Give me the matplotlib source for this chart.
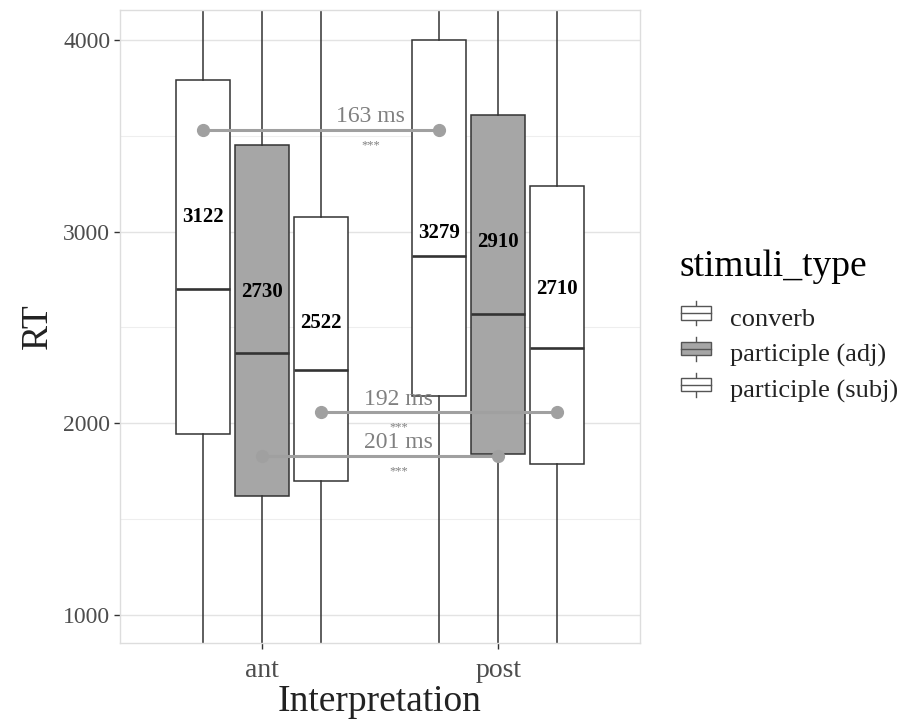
import numpy as np
import matplotlib.pyplot as plt
from matplotlib.patches import Rectangle, Patch
from matplotlib.lines import Line2D
from matplotlib.legend_handler import HandlerBase

plt.rcParams['font.family'] = ['Liberation Serif', 'DejaVu Serif']

# data
interpretation = ['ant', 'post']
stimuli_type = ['converb', 'participle (adj)', 'participle (subj)']
fills = ['white', '#A6A6A6', 'white']

# rows = interpretation, cols = stimuli_type
q1 = [[1945, 1621, 1698], [2143, 1839, 1787]]
med = [[2699, 2369, 2279], [2873, 2569, 2393]]
q3 = [[3791, 3454, 3075], [3998, 3610, 3240]]
whislo = [[600, 500, 550], [650, 600, 600]]      # whiskers run off the panel
whishi = [[5600, 5800, 5200], [6000, 5900, 5600]]
mean_lab = [[3122, 2730, 2522], [3279, 2910, 2710]]
lab_y = [[3078, 2687, 2522], [2992, 2946, 2699]]

# pairwise comparisons ant vs post, per stimuli type
comp_type = [0, 2, 1]
comp_y = [3530, 2058, 1830]
comp_ms = [163, 192, 201]
comp_txt_x = [1.46, 1.58, 1.58]

dodge = 0.25
box_w = 0.227
edge = '#333333'


class BoxKey(HandlerBase):
    def create_artists(self, legend, orig, xd, yd, w, h, fs, trans):
        cx = xd + w / 2
        bw = 0.95 * w
        bh = 0.62 * h
        r = Rectangle((cx - bw / 2, yd + h / 2 - bh / 2), bw, bh,
                      facecolor=orig.get_facecolor(), edgecolor='#555555',
                      lw=1.0, transform=trans)
        wl = Line2D([cx, cx], [yd - 0.05 * h, yd + 1.05 * h], color='#555555', lw=1.0, transform=trans)
        ml = Line2D([cx - bw / 2, cx + bw / 2], [yd + h / 2] * 2, color='#555555', lw=1.0, transform=trans)
        return [wl, r, ml]


fig = plt.figure(figsize=(9.19, 7.22), dpi=100)
ax = fig.add_axes([120 / 919, 1 - 643 / 722, 520 / 919, 633 / 722])

for i, grp in enumerate(interpretation):
    for j, st in enumerate(stimuli_type):
        pos = i + 1 + (j - 1) * dodge
        stats = [dict(med=med[i][j], q1=q1[i][j], q3=q3[i][j],
                      whislo=whislo[i][j], whishi=whishi[i][j], fliers=[])]
        ax.bxp(stats, positions=[pos], widths=box_w, patch_artist=True,
               showcaps=False,
               boxprops=dict(facecolor=fills[j], edgecolor=edge, lw=1.1),
               whiskerprops=dict(color=edge, lw=1.1),
               medianprops=dict(color=edge, lw=1.9),
               manage_ticks=False)
        ax.text(pos, lab_y[i][j], str(mean_lab[i][j]), ha='center', va='center',
                fontsize=15, color='black', fontweight='bold', zorder=5)

for k in range(len(comp_type)):
    j = comp_type[k]
    xs = [1 + (j - 1) * dodge, 2 + (j - 1) * dodge]
    ax.plot(xs, [comp_y[k]] * 2, color='#A0A0A0', lw=2.2, marker='o', ms=8.5, zorder=6)
    ax.text(comp_txt_x[k], comp_y[k] + 68, f'{comp_ms[k]} ms', ha='center', va='center',
            fontsize=17, color='#808080', zorder=7)
    ax.text(comp_txt_x[k], comp_y[k] - 80, '***', ha='center', va='center',
            fontsize=9, color='#808080', zorder=7)

ax.set_xlim(0.4, 2.6)
ax.set_ylim(854, 4156)
ax.set_xticks([1, 2])
ax.set_xticklabels(interpretation)
ax.set_yticks([1000, 2000, 3000, 4000])
ax.set_yticks([1500, 2500, 3500], minor=True)
ax.grid(True, which='major', axis='y', color='#E3E3E3', lw=1.0, zorder=0)
ax.grid(True, which='minor', axis='y', color='#EEEEEE', lw=0.8, zorder=0)
ax.set_axisbelow(True)
for s in ax.spines.values():
    s.set_color('#DDDDDD')
    s.set_linewidth(1.0)
ax.tick_params(axis='both', which='major', color='#333333', length=4, width=1)
ax.tick_params(axis='y', which='minor', length=0)
ax.tick_params(axis='y', labelsize=17, labelcolor='#4D4D4D', pad=3)
ax.tick_params(axis='x', labelsize=20, labelcolor='#4D4D4D', pad=7)
ax.set_xlabel('Interpretation', fontsize=27, color='#222222', labelpad=1)
ax.set_ylabel('RT', fontsize=27, color='#222222', labelpad=6)

handles = [Patch(facecolor=f, edgecolor='#555555') for f in fills]
leg = fig.legend(handles, stimuli_type, title='stimuli_type', loc='center left',
                 bbox_to_anchor=(656 / 919, 1 - 326 / 722), frameon=False,
                 handler_map={Patch: BoxKey()}, fontsize=19, title_fontsize=27,
                 handlelength=1.2, handleheight=0.9, handletextpad=0.7,
                 labelspacing=0.4, alignment='left')
leg._legend_box.sep = 16
for t in leg.get_texts():
    t.set_color('#222222')

fig.savefig('out.png', dpi=100)
